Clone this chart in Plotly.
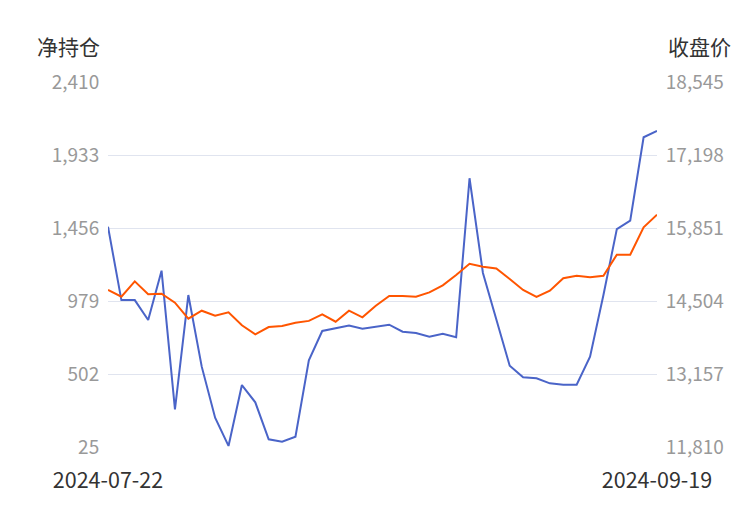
import plotly.graph_objects as go

dates = [
    "2024-07-22", "2024-07-23", "2024-07-24", "2024-07-25", "2024-07-26",
    "2024-07-29", "2024-07-30", "2024-07-31", "2024-08-01", "2024-08-02",
    "2024-08-05", "2024-08-06", "2024-08-07", "2024-08-08", "2024-08-09",
    "2024-08-12", "2024-08-13", "2024-08-14", "2024-08-15", "2024-08-16",
    "2024-08-19", "2024-08-20", "2024-08-21", "2024-08-22", "2024-08-23",
    "2024-08-26", "2024-08-27", "2024-08-28", "2024-08-29", "2024-08-30",
    "2024-09-02", "2024-09-03", "2024-09-04", "2024-09-05", "2024-09-06",
    "2024-09-09", "2024-09-10", "2024-09-11", "2024-09-12", "2024-09-13",
    "2024-09-18", "2024-09-19",
]

net_position = [
    1464, 985, 985, 855, 1177, 271, 1018, 550, 216, 32,
    430, 317, 75, 60, 92, 592, 783, 798, 818, 798,
    811, 824, 778, 770, 746, 765, 742, 1781, 1162, 861,
    556, 480, 474, 441, 432, 432, 615, 1018, 1449, 1504,
    2049, 2090,
]

close_price = [
    14707, 14583, 14867, 14628, 14639, 14473, 14177, 14325, 14233, 14295,
    14055, 13890, 14024, 14043, 14104, 14137, 14259, 14122, 14325, 14203,
    14417, 14596, 14596, 14583, 14664, 14794, 14984, 15192, 15137, 15105,
    14910, 14707, 14578, 14694, 14923, 14971, 14941, 14971, 15358, 15358,
    15864, 16096,
]

left_ticks = [25, 502, 979, 1456, 1933, 2410]
right_ticks = [11810, 13157, 14504, 15851, 17198, 18545]

FONT = "Noto Sans CJK SC"

fig = go.Figure()
fig.add_trace(go.Scatter(
    x=list(range(len(dates))), y=net_position, mode="lines",
    line=dict(color="#4a64c8", width=2), name="净持仓", yaxis="y",
))
fig.add_trace(go.Scatter(
    x=list(range(len(dates))), y=close_price, mode="lines",
    line=dict(color="#ff5500", width=2), name="收盘价", yaxis="y2",
))

fig.update_layout(
    width=750, height=510,
    margin=dict(l=100, r=101, t=74, b=71),
    paper_bgcolor="white", plot_bgcolor="white",
    showlegend=False,
    font=dict(family=FONT),
    xaxis=dict(
        range=[0, len(dates) - 1],
        tickvals=[0, len(dates) - 1],
        ticktext=[dates[0], dates[-1]],
        showgrid=False, zeroline=False, showline=False,
        ticks="outside", ticklen=14, tickcolor="rgba(0,0,0,0)",
        tickfont=dict(size=21.5, color="#333333", family=FONT),
    ),
    yaxis=dict(
        range=[left_ticks[0], left_ticks[-1]],
        tickvals=left_ticks, tickformat=",d",
        showgrid=True, gridcolor="#e0e4ef", gridwidth=1,
        zeroline=False, showline=False,
        ticks="outside", ticklen=4, tickcolor="rgba(0,0,0,0)",
        tickfont=dict(size=19, color="#999999", family=FONT),
    ),
    yaxis2=dict(
        range=[right_ticks[0], right_ticks[-1]],
        tickvals=right_ticks, tickformat=",d",
        overlaying="y", side="right",
        showgrid=False, zeroline=False, showline=False,
        ticks="outside", ticklen=4, tickcolor="rgba(0,0,0,0)",
        tickfont=dict(size=19, color="#999999", family=FONT),
    ),
    annotations=[
        dict(text="净持仓", xref="paper", yref="paper", x=-0.133, y=1.098,
             xanchor="left", yanchor="middle", showarrow=False,
             font=dict(size=21, color="#333333", family=FONT)),
        dict(text="收盘价", xref="paper", yref="paper", x=1.016, y=1.098,
             xanchor="left", yanchor="middle", showarrow=False,
             font=dict(size=21, color="#333333", family=FONT)),
    ],
)

fig.write_html("out.html")
